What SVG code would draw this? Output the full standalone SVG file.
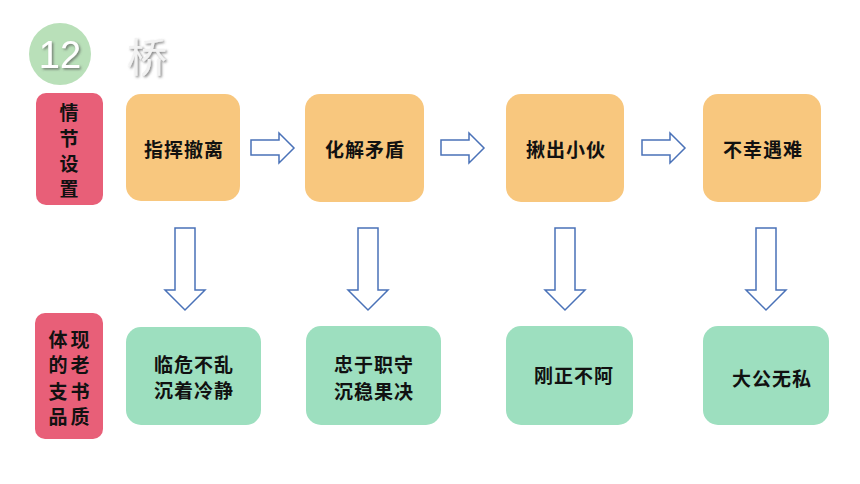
<svg xmlns="http://www.w3.org/2000/svg" width="860" height="484" viewBox="0 0 860 484">
<defs>
<filter id="sh" x="-20%" y="-20%" width="140%" height="140%">
<feDropShadow dx="1.5" dy="1.5" stdDeviation="1" flood-color="#555" flood-opacity="0.7"/>
</filter>
</defs>
<style>
.red{fill:#e85f78}
.org{fill:#f8c77e}
.grn{fill:#9ddfbf}
.t{font-family:"Noto Sans CJK SC","Noto Sans CJK JP",sans-serif;font-size:19px;font-weight:bold;fill:#111;text-anchor:middle;dominant-baseline:central}
.g{font-size:19px;letter-spacing:1px}
.arr{fill:#fff;stroke:#4a72b8;stroke-width:1.5;stroke-linejoin:miter}
</style>
<rect width="860" height="484" fill="#fff"/>
<g id="title">
<circle cx="60" cy="54" r="31" fill="#b9e0b9"/>
<text x="60" y="55" font-family="'Liberation Sans',Arial,sans-serif" font-size="38" fill="#fff" text-anchor="middle" dominant-baseline="central" filter="url(#sh)">12</text>
<text x="147" y="55" font-family="'Noto Sans CJK SC',sans-serif" font-size="40" fill="#f2f2f2" text-anchor="middle" dominant-baseline="central" filter="url(#sh)">桥</text>
</g>
<g id="label1">
<rect class="red" x="36" y="93" width="67" height="112" rx="10"/>
<text class="t" x="69" y="111">情</text>
<text class="t" x="69" y="137">节</text>
<text class="t" x="69" y="162">设</text>
<text class="t" x="69" y="187">置</text>
</g>
<g id="label2">
<rect class="red" x="35" y="313" width="68" height="126" rx="10"/>
<text class="t" x="58" y="338">体</text><text class="t" x="80" y="338">现</text>
<text class="t" x="58" y="363">的</text><text class="t" x="80" y="363">老</text>
<text class="t" x="58" y="390">支</text><text class="t" x="80" y="390">书</text>
<text class="t" x="58" y="415">品</text><text class="t" x="80" y="415">质</text>
</g>
<g id="plot1"><rect class="org" x="126" y="94" width="114" height="107" rx="15"/><text class="t g" x="184" y="148">指挥撤离</text></g>
<g id="plot2"><rect class="org" x="305" y="94" width="119" height="108" rx="15"/><text class="t g" x="365" y="148">化解矛盾</text></g>
<g id="plot3"><rect class="org" x="506" y="94" width="118" height="108" rx="15"/><text class="t g" x="566" y="148">揪出小伙</text></g>
<g id="plot4"><rect class="org" x="703" y="94" width="118" height="108" rx="15"/><text class="t g" x="763" y="148">不幸遇难</text></g>
<g id="q1"><rect class="grn" x="126" y="327" width="135" height="98" rx="15"/><text class="t g" x="194" y="363">临危不乱</text><text class="t g" x="194" y="389">沉着冷静</text></g>
<g id="q2"><rect class="grn" x="306" y="326" width="135" height="99" rx="15"/><text class="t g" x="374" y="363">忠于职守</text><text class="t g" x="374" y="390">沉稳果决</text></g>
<g id="q3"><rect class="grn" x="506" y="326" width="127" height="99" rx="15"/><text class="t g" x="574" y="374">刚正不阿</text></g>
<g id="q4"><rect class="grn" x="703" y="326" width="126" height="99" rx="15"/><text class="t g" x="772" y="377">大公无私</text></g>
<g id="connectors">
<polygon class="arr" points="251,140 279,140 279,133 294,148 279,163 279,155 251,155"/>
<polygon class="arr" points="441,140 469,140 469,133 484,148 469,163 469,155 441,155"/>
<polygon class="arr" points="642,140 670,140 670,133 685,148 670,163 670,155 642,155"/>
<polygon class="arr" points="175,228 195,228 195,290 205,290 185,310 165,290 175,290"/>
<polygon class="arr" points="358,228 378,228 378,290 388,290 368,310 348,290 358,290"/>
<polygon class="arr" points="555,228 575,228 575,290 585,290 565,310 545,290 555,290"/>
<polygon class="arr" points="756,228 776,228 776,290 786,290 766,310 746,290 756,290"/>
</g>
</svg>
